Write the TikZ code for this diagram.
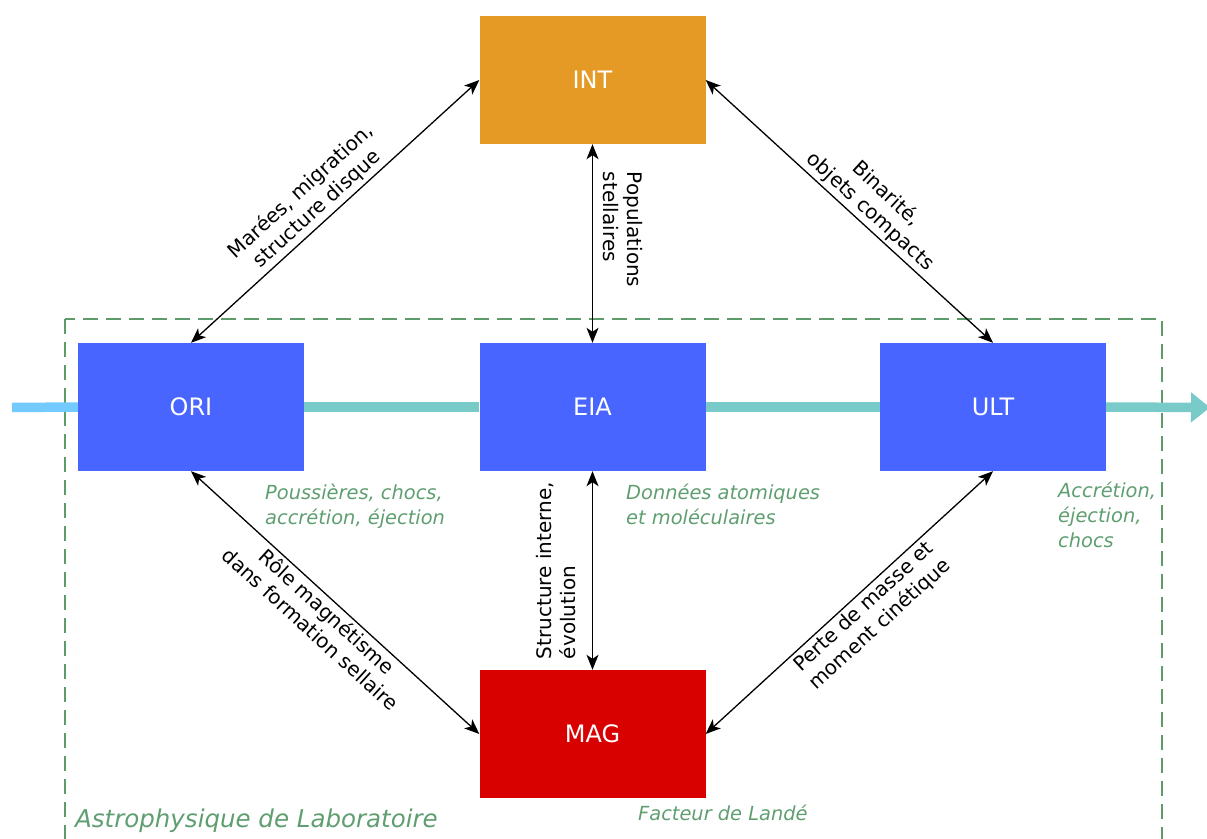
\documentclass[tikz,border=0pt]{standalone}
\usepackage{fontspec}
\setmainfont{DejaVu Sans}
\usetikzlibrary{arrows.meta}
\definecolor{cint}{HTML}{E69A26}
\definecolor{cblue}{HTML}{4865FF}
\definecolor{cred}{HTML}{D90000}
\definecolor{cgreen}{HTML}{5E9B6B}
\definecolor{ctxt}{HTML}{5F9E70}
\definecolor{clight}{HTML}{73CAFF}
\definecolor{cteal}{HTML}{79CBCA}
\begin{document}
\begin{tikzpicture}[x=1pt,y=-1pt,
  box/.style={minimum width=226pt, minimum height=128pt, inner sep=0pt, text=white, font=\fontsize{24}{28}\selectfont},
  link/.style={{Stealth[length=15pt,width=12pt,inset=4pt]}-{Stealth[length=15pt,width=12pt,inset=4pt]}, line width=1.3pt, black},
  lab/.style={font=\fontsize{20}{24}\selectfont, align=center, sloped, inner sep=2pt},
  note/.style={font=\fontsize{19.4}{25}\selectfont\itshape, text=ctxt, align=left, anchor=north west, inner sep=0pt},
  frame/.style={draw=cgreen, line width=2.3pt, dash pattern=on 15pt off 8pt}]
\useasboundingbox (0,0) rectangle (1207,838);
\clip (0,0) rectangle (1207,838);
% frame
\draw[frame] (65,319) rectangle (1162,860);
% main flow arrow
\coordinate (start) at (12,407.5);
\coordinate (stop) at (1210,407.5);
\node[box, fill=cint] (INT) at (592.5,80) {INT};
\node[box, fill=cblue] (ORI) at (191,407) {ORI};
\node[box, fill=cblue] (EIA) at (592.5,407) {EIA};
\node[box, fill=cblue] (ULT) at (993,407) {ULT};
\node[box, fill=cred] (MAG) at (592.5,734) {MAG};
\draw[line width=9.5pt, clight] (start) -- (ORI.west);
\draw[line width=9.5pt, cteal] (ORI.east) -- (EIA.west);
\draw[line width=9.5pt, cteal] (EIA.east) -- (ULT.west);
\draw[line width=9.5pt, cteal, -{Triangle[length=19pt,width=29pt]}] (ULT.east) -- (stop);
% links
\draw[link] (ORI.north) -- node[lab, above=1pt, pos=0.47] {Marées, migration,\\structure disque} (INT.west);
\draw[link] (INT.east) -- node[lab, above=1pt, pos=0.54] {Binarité,\\objets compacts} (ULT.north);
\draw[link] (INT.south) -- node[lab, above=8pt, align=left, pos=0.43] {Populations\\stellaires} (EIA.north);
\draw[link] (ORI.south) -- node[lab, below=1pt, pos=0.5] {Rôle magnétisme\\dans formation sellaire} (MAG.west);
\draw[link] (MAG.north) -- node[lab, above=14pt, align=left, pos=0.5] {Structure interne,\\évolution} (EIA.south);
\draw[link] (MAG.east) -- node[lab, below=1pt, pos=0.52] {Perte de masse et\\moment cinétique} (ULT.south);
% notes
\node[note] (n1) at (265,484) {Poussières, chocs,\\accrétion, éjection};
\node[note] (n2) at (626,484) {Données atomiques\\et moléculaires};
\node[note] (n3) at (1058,482) {Accrétion,\\éjection,\\chocs};
\node[note] (n4) at (638,805) {Facteur de Landé};
\node[note, font=\fontsize{24.5}{28}\selectfont\itshape] (n5) at (75,809) {Astrophysique de Laboratoire};
\end{tikzpicture}
\end{document}
